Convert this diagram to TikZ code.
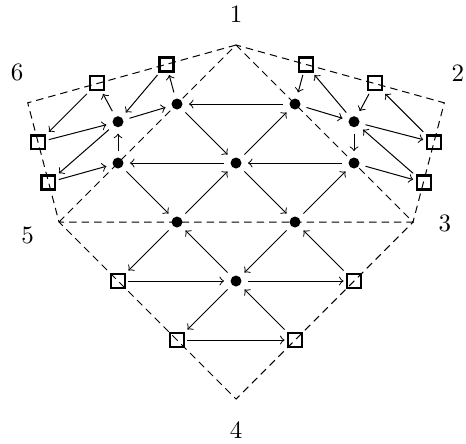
\documentclass[tikz,border=0pt]{standalone}
\usepackage{tikz}
\usepackage{amsmath}

\begin{document}
\begin{tikzpicture}[x=0.83cm, y=0.83cm,
  dot/.style={circle, fill, inner sep=0pt, minimum size=4.4pt, outer sep=2.6pt},
  box/.style={draw, line width=0.9pt, inner sep=0pt, minimum size=5.6pt, outer sep=1.4pt},
  cut/.style={dash pattern=on 3pt off 2pt}]
  \useasboundingbox (-4,-3.746) rectangle (3.898,3.763);

  % outline
  \coordinate (v1) at (0,3);
  \coordinate (v2) at (3.53,2.02);
  \coordinate (v3) at (3,0);
  \coordinate (v4) at (0,-3);
  \coordinate (v5) at (-3,0);
  \coordinate (v6) at (-3.53,2.02);
  \draw[cut] (v1) -- (v6) -- (v5) -- (v4) -- (v3) -- (v2) -- cycle;
  \draw[cut] (v5) -- (v1) -- (v3) -- (v5);

  % labels
  \node (l1) at (0,3.53) {1};
  \node (l2) at (3.76,2.53) {2};
  \node (l3) at (3.54,-0.02) {3};
  \node (l4) at (0,-3.53) {4};
  \node (l5) at (-3.53,-0.22) {5};
  \node (l6) at (-3.71,2.54) {6};

  % inner points
  \node[dot] (a) at (-1,2) {};
  \node[dot] (b) at (1,2) {};
  \node[dot] (c) at (-2,1) {};
  \node[dot] (d) at (0,1) {};
  \node[dot] (e) at (2,1) {};
  \node[dot] (f) at (-1,0) {};
  \node[dot] (g) at (1,0) {};
  \node[dot] (i) at (0,-1) {};
  \node[dot] (m) at (-2,1.7) {};
  \node[dot] (n) at (2,1.7) {};

  % boundary points
  \node[box] (h) at (-2,-1) {};
  \node[box] (j) at (2,-1) {};
  \node[box] (k) at (-1,-2) {};
  \node[box] (l) at (1,-2) {};
  \node[box] (p1) at (-1.18,2.67) {};
  \node[box] (p2) at (-2.35,2.35) {};
  \node[box] (p3) at (-3.35,1.35) {};
  \node[box] (p4) at (-3.18,0.67) {};
  \node[box] (q1) at (1.18,2.67) {};
  \node[box] (q2) at (2.35,2.35) {};
  \node[box] (q3) at (3.35,1.35) {};
  \node[box] (q4) at (3.18,0.67) {};

  % middle arrows
  \draw[->] (b) -- (a);
  \draw[->] (a) -- (d);
  \draw[->] (d) -- (b);
  \draw[->] (e) -- (d);
  \draw[->] (d) -- (c);
  \draw[->] (c) -- (f);
  \draw[->] (f) -- (d);
  \draw[->] (d) -- (g);
  \draw[->] (g) -- (e);
  \draw[->] (f) -- (h);
  \draw[->] (i) -- (f);
  \draw[->] (g) -- (i);
  \draw[->] (j) -- (g);
  \draw[->] (h) -- (i);
  \draw[->] (i) -- (j);
  \draw[->] (i) -- (k);
  \draw[->] (l) -- (i);
  \draw[->] (k) -- (l);

  % left arrows
  \draw[->] (c) -- (m);
  \draw[->] (m) -- (a);
  \draw[->] (a) -- (p1);
  \draw[->] (p1) -- (m);
  \draw[->] (m) -- (p2);
  \draw[->] (p2) -- (p3);
  \draw[->] (p3) -- (m);
  \draw[->] (m) -- (p4);
  \draw[->] (p4) -- (c);

  % right arrows
  \draw[->] (n) -- (e);
  \draw[->] (b) -- (n);
  \draw[->] (q1) -- (b);
  \draw[->] (n) -- (q1);
  \draw[->] (q2) -- (n);
  \draw[->] (q3) -- (q2);
  \draw[->] (n) -- (q3);
  \draw[->] (q4) -- (n);
  \draw[->] (e) -- (q4);
\end{tikzpicture}
\end{document}
